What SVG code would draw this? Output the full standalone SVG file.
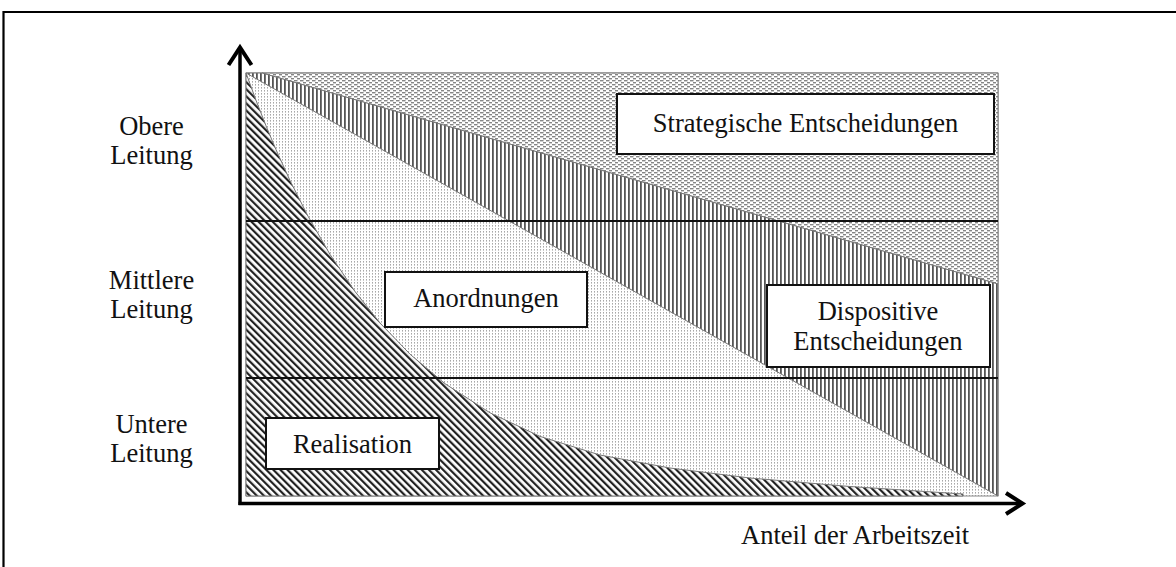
<svg xmlns="http://www.w3.org/2000/svg" width="1176" height="567" viewBox="0 0 1176 567">
<style>
.lbl{font-family:"Liberation Serif","Times New Roman",serif;font-size:26.5px;fill:#111;}
.box{fill:#fff;stroke:#111;stroke-width:2;}
.edge{fill:none;stroke:#777;stroke-width:1;}
.axis{fill:none;stroke:#000;stroke-width:3.5;stroke-linecap:butt;}
.head{fill:none;stroke:#000;stroke-width:4;stroke-linejoin:miter;}
.lvl{stroke:#111;stroke-width:2;}
</style>
<defs>
<pattern id="pDash" width="6" height="4" patternUnits="userSpaceOnUse">
<rect width="6" height="4" fill="#fff"/>
<rect x="0" y="0" width="3.5" height="1.4" fill="#858585"/>
<rect x="3" y="2" width="3.5" height="1.4" fill="#858585"/>
</pattern>
<pattern id="pV" width="4" height="4" patternUnits="userSpaceOnUse">
<rect width="4" height="4" fill="#fff"/>
<rect x="0" y="0" width="1.8" height="4" fill="#555"/>
</pattern>
<pattern id="pDot" width="3" height="3" patternUnits="userSpaceOnUse">
<rect width="3" height="3" fill="#fff"/>
<rect x="0" y="0" width="1" height="1.6" fill="#a8a8a8"/>
</pattern>
<pattern id="pHatch" width="5" height="5" patternUnits="userSpaceOnUse" patternTransform="rotate(-45)">
<rect width="5" height="5" fill="#fff"/>
<rect x="0" y="0" width="2.2" height="5" fill="#222"/>
</pattern>
</defs>
<rect width="1176" height="567" fill="#fff"/>
<path d="M3.5 567 V12 H1176" fill="none" stroke="#000" stroke-width="2.2"/>

<g id="chart">
<rect x="246" y="73" width="752" height="423" fill="url(#pDot)" stroke="#888" stroke-width="1"/>
<polygon id="region-strategisch" points="262,73 998,73 998,284" class="edge" style="fill:url(#pDash)"/>
<polygon id="region-dispositiv" points="246,73 262,73 998,284 998,496" class="edge" style="fill:url(#pV)"/>
<path id="region-realisation" d="M246 73 L256 100.3 L266 125.8 L276 149.7 L290 180.5 L308 216.2 L330 254.4 L355 291.5 L380 322.9 L410 354.2 L445 383.7 L490 412.8 L540 436.4 L600 455 L670 468 L750 478 L850 486.5 L963 494 L963 496 L246 496 Z" class="edge" style="fill:url(#pHatch)"/>
<line class="lvl" x1="246" y1="221" x2="998" y2="221"/>
<line class="lvl" x1="246" y1="378" x2="998" y2="378"/>
</g>

<g id="connectors">
<line class="axis" x1="240" y1="505" x2="240" y2="49"/>
<polyline class="head" points="228.5,65 240,47.5 251.5,65"/>
<line class="axis" x1="238.5" y1="503.5" x2="1021" y2="503.5"/>
<polyline class="head" points="1006,493 1022.5,503.5 1006,514"/>
</g>

<g id="node-strategisch">
<rect class="box" x="617" y="94" width="377" height="60"/>
<text class="lbl" x="805.5" y="132" text-anchor="middle">Strategische Entscheidungen</text>
</g>
<g id="node-anordnungen">
<rect class="box" x="385" y="272" width="202" height="55"/>
<text class="lbl" x="486" y="307" text-anchor="middle">Anordnungen</text>
</g>
<g id="node-dispositiv">
<rect class="box" x="767" y="285" width="223" height="82"/>
<text class="lbl" x="878" y="320" text-anchor="middle">Dispositive</text>
<text class="lbl" x="878" y="350" text-anchor="middle">Entscheidungen</text>
</g>
<g id="node-realisation">
<rect class="box" x="266" y="418" width="173" height="51"/>
<text class="lbl" x="352.5" y="452.5" text-anchor="middle">Realisation</text>
</g>

<g id="axis-labels">
<text class="lbl" x="151.5" y="135" text-anchor="middle">Obere</text>
<text class="lbl" x="151.5" y="164" text-anchor="middle">Leitung</text>
<text class="lbl" x="151.5" y="289" text-anchor="middle">Mittlere</text>
<text class="lbl" x="151.5" y="318" text-anchor="middle">Leitung</text>
<text class="lbl" x="151.5" y="433" text-anchor="middle">Untere</text>
<text class="lbl" x="151.5" y="462" text-anchor="middle">Leitung</text>
<text class="lbl" x="741" y="544">Anteil der Arbeitszeit</text>
</g>
</svg>
